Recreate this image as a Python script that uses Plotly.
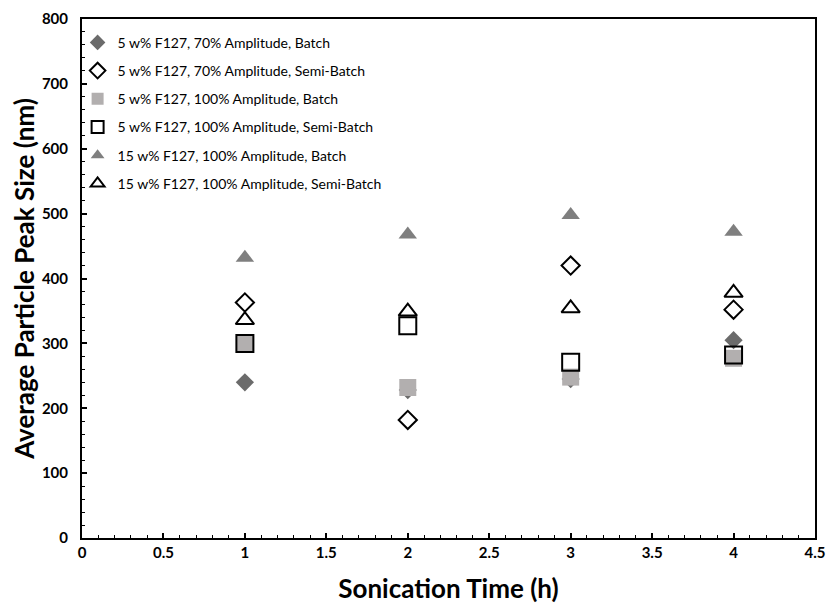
import plotly.graph_objects as go

# Sonication time (h)
time_h = [1, 2, 3, 4]

# Average particle peak size (nm) for each formulation / process mode
f5_70_batch = [240, 228, 245, 305]
f5_70_semi = [363, 182, 420, 352]
f5_100_batch = [300, 232, 248, 277]
f5_100_semi = [300, 327, 271, 282]
f15_100_batch = [432, 468, 498, 472]
f15_100_semi = [336, 349, 354, 378]

series = [
    ("5 w% F127, 70% Amplitude, Batch", f5_70_batch, "diamond", "#6b6b6b", 14, 0),
    ("5 w% F127, 70% Amplitude, Semi-Batch", f5_70_semi, "diamond-open", "#000000", 14, 2),
    ("5 w% F127, 100% Amplitude, Batch", f5_100_batch, "square", "#b2afaf", 17, 0),
    ("5 w% F127, 100% Amplitude, Semi-Batch", f5_100_semi, "square-open", "#000000", 17, 2),
    ("15 w% F127, 100% Amplitude, Batch", f15_100_batch, "triangle-up", "#7f7f7f", 16, 0),
    ("15 w% F127, 100% Amplitude, Semi-Batch", f15_100_semi, "triangle-up-open", "#000000", 16, 2),
]

fig = go.Figure()
for i, (name, vals, sym, col, size, lw) in enumerate(series):
    fig.add_trace(go.Scatter(
        x=time_h, y=vals, mode="markers", name=name, legendgroup=f"g{i}",
        marker=dict(symbol=sym, color=col, size=size,
                    line=dict(color=col, width=lw)),
    ))

font_family = "Lato, 'Open Sans', sans-serif"

axis_common = dict(
    showline=True, linecolor="black", linewidth=2, mirror=True,
    ticks="inside", ticklen=5, tickwidth=1.5, tickcolor="black",
    showgrid=False, zeroline=False, automargin=False,
    tickfont=dict(family=font_family, size=15, color="black", weight="bold"),
)

fig.update_xaxes(
    range=[0, 4.5], dtick=0.5, tick0=0, ticklabelstandoff=0,
    minor=dict(dtick=0.1, ticks="inside", ticklen=3, tickcolor="black", tickwidth=1),
    title=dict(text="Sonication Time (h)", standoff=20,
               font=dict(family=font_family, size=26, color="black", weight="bold")),
    **axis_common,
)
fig.update_yaxes(
    range=[0, 800], dtick=100, tick0=0, ticklabelstandoff=9,
    minor=dict(dtick=20, ticks="inside", ticklen=3, tickcolor="black", tickwidth=1),
    title=dict(text="Average Particle Peak Size (nm)", standoff=0,
               font=dict(family=font_family, size=26, color="black", weight="bold")),
    **axis_common,
)

fig.update_layout(
    width=828, height=605,
    margin=dict(l=82, r=13, t=19, b=67),
    paper_bgcolor="white", plot_bgcolor="white",
    showlegend=True,
    legend=dict(
        x=-0.006, y=0.985, xanchor="left", yanchor="top",
        bgcolor="rgba(0,0,0,0)", traceorder="grouped", tracegroupgap=7,
        font=dict(family=font_family, size=14, color="black"),
        itemwidth=30, itemsizing="constant",
    ),
)

fig.write_html("out.html")
